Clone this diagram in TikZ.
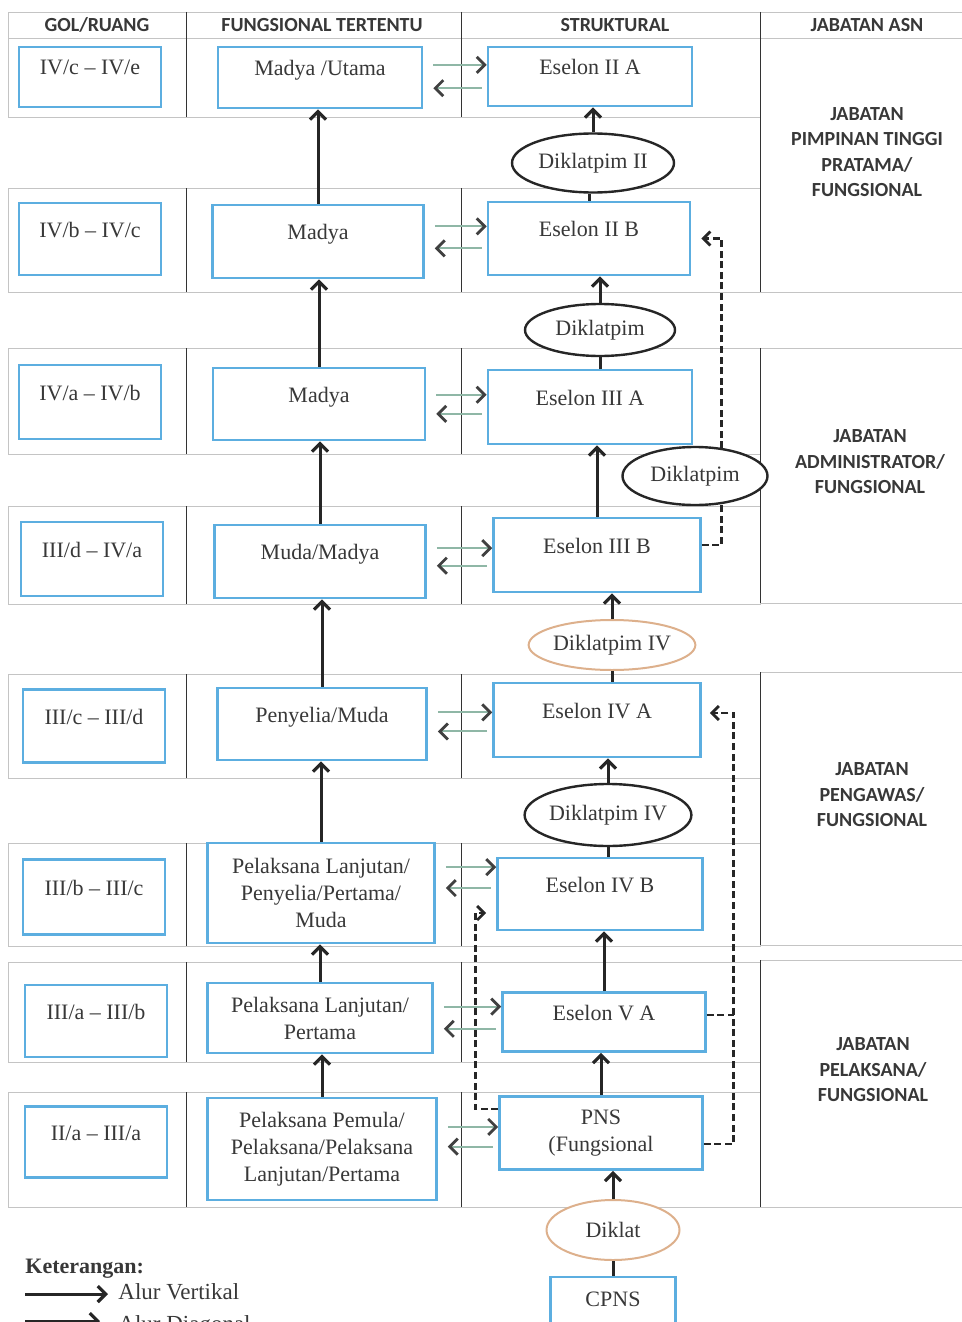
\documentclass[tikz,border=0pt]{standalone}
\usepackage{fontspec}
\setmainfont{Liberation Serif}
\newfontfamily\headfont{Carlito}
\usetikzlibrary{calc,arrows.meta,shapes.geometric}
\definecolor{boxblue}{HTML}{5CAEE0}
\definecolor{flowgreen}{HTML}{8FB7A6}
\definecolor{inkgray}{HTML}{383838}
\definecolor{rulegray}{HTML}{C4C4C4}
\definecolor{diklattan}{HTML}{DDB08C}

\begin{document}
\begin{tikzpicture}[x=0.5pt,y=-0.5pt,
	box/.style={draw=boxblue,line width=1.3pt,fill=white,text=inkgray,align=center,inner sep=0pt,font=\fontsize{11}{13.5}\selectfont},
	oneline/.style={text height=0.7em,text depth=0.9em},
	oval/.style={ellipse,draw=black!85,line width=1.2pt,fill=white,text=inkgray,inner sep=0pt,font=\fontsize{11}{13.5}\selectfont},
	head/.style={font=\headfont\bfseries\fontsize{10}{12.75}\selectfont,text=inkgray,align=center},
	vflow/.style={line width=1.5pt,draw=black!85,-{Straight Barb[length=4pt,width=8pt,line width=1.6pt]}},
	hflow/.style={line width=1pt,draw=flowgreen,-{Straight Barb[length=4pt,width=8pt,color=black!75,line width=1.4pt]}},
	dflow/.style={line width=1.4pt,draw=black!85,dash pattern=on 3.5pt off 1.8pt,-{Straight Barb[length=3.5pt,width=7pt]}},
	dline/.style={line width=1.4pt,draw=black!85,dash pattern=on 3.5pt off 1.8pt}]
	
	\clip (0,0) rectangle (962,1322);
	
	%Drawing table header
	\draw[rulegray] (8,12) rectangle (962,38);
	\foreach \x in {186,461,760} \draw[black!80] (\x,12) -- (\x,38);
	\node[head] (hgol) at (97,25) {GOL/RUANG};
	\node[head] (hfung) at (322,25) {FUNGSIONAL TERTENTU};
	\node[head] (hstruk) at (615,25) {STRUKTURAL};
	\node[head] (hasn) at (867,25) {JABATAN ASN};
	
	%Drawing row bands
	\foreach \t/\b in {38/117,188/292,348/454,506/604,674/778,843/946,962/1062,1092/1207}{
		\draw[rulegray] (8,\t) rectangle (760,\b);
		\draw[black!80] (186,\t) -- (186,\b) (461,\t) -- (461,\b);
	}
	
	%Drawing JABATAN ASN groups
	\foreach \t/\b in {38/292,348/603,672/945,960/1207}{
		\draw[rulegray] (760,\t) -- (962,\t) (760,\b) -- (962,\b);
		\draw[black!80] (760,\t) -- (760,\b);
	}
	\node[head] (asn1) at (867,152) {JABATAN\\PIMPINAN TINGGI\\PRATAMA/\\FUNGSIONAL};
	\node[head] (asn2) at (870,462) {JABATAN\\ADMINISTRATOR/\\FUNGSIONAL};
	\node[head] (asn3) at (872,795) {JABATAN\\PENGAWAS/\\FUNGSIONAL};
	\node[head] (asn4) at (873,1070) {JABATAN\\PELAKSANA/\\FUNGSIONAL};
	
	%Drawing GOL/RUANG boxes
	\node[box,oneline,minimum width=71pt,minimum height=30pt] (g1) at (90,77) {IV/c -- IV/e};
	\node[box,oneline,minimum width=71pt,minimum height=36pt] (g2) at (90,239) {IV/b -- IV/c};
	\node[box,oneline,minimum width=71pt,minimum height=37pt] (g3) at (90,402) {IV/a -- IV/b};
	\node[box,oneline,minimum width=71pt,minimum height=37pt] (g4) at (92,559) {III/d -- IV/a};
	\node[box,oneline,minimum width=71pt,minimum height=36.5pt] (g5) at (94,726) {III/c -- III/d};
	\node[box,oneline,minimum width=71pt,minimum height=37.5pt] (g6) at (94,897) {III/b -- III/c};
	\node[box,oneline,minimum width=71pt,minimum height=36pt] (g7) at (96,1021) {III/a -- III/b};
	\node[box,oneline,minimum width=71pt,minimum height=35.5pt] (g8) at (96,1142) {II/a -- III/a};
	
	%Drawing fungsional tertentu boxes
	\node[box,oneline,minimum width=102pt,minimum height=30.5pt] (f1) at (320,77.5) {Madya /Utama};
	\node[box,oneline,minimum width=105.5pt,minimum height=36.5pt] (f2) at (318,241.5) {Madya};
	\node[box,oneline,minimum width=106pt,minimum height=36pt] (f3) at (319,404) {Madya};
	\node[box,oneline,minimum width=105.5pt,minimum height=36.5pt] (f4) at (320,561.5) {Muda/Madya};
	\node[box,oneline,minimum width=104.5pt,minimum height=36pt] (f5) at (322,724) {Penyelia/Muda};
	\node[box,minimum width=113.5pt,minimum height=50pt] (f6) at (321,893) {Pelaksana Lanjutan/\\Penyelia/Pertama/\\Muda};
	\node[box,minimum width=112.5pt,minimum height=35pt] (f7) at (320,1018) {Pelaksana Lanjutan/\\Pertama};
	\node[box,minimum width=114.5pt,minimum height=51pt] (f8) at (322,1149) {Pelaksana Pemula/\\Pelaksana/Pelaksana\\Lanjutan/Pertama};
	
	%Drawing struktural boxes
	\node[box,oneline,minimum width=102pt,minimum height=29.5pt] (s1) at (590,76.5) {Eselon II A};
	\node[box,oneline,minimum width=101pt,minimum height=36.5pt] (s2) at (589,238.5) {Eselon II B};
	\node[box,oneline,minimum width=102pt,minimum height=37pt] (s3) at (590,407) {Eselon III A};
	\node[box,oneline,minimum width=103.5pt,minimum height=37pt] (s4) at (597,555) {Eselon III B};
	\node[box,oneline,minimum width=103.5pt,minimum height=37pt] (s5) at (597,720) {Eselon IV A};
	\node[box,oneline,minimum width=102.5pt,minimum height=36pt] (s6) at (600,894) {Eselon IV B};
	\node[box,oneline,minimum width=101.5pt,minimum height=29.5pt] (s7) at (604,1022) {Eselon V A};
	\node[box,minimum width=101.5pt,minimum height=36.5pt] (s8) at (601,1133) {PNS\\(Fungsional};
	\node[box,oneline,minimum width=62.5pt,minimum height=31pt] (cpns) at (613,1308) {CPNS};
	
	%Drawing dashed diagonal paths
	\draw[dflow] ([yshift=5pt]s4.east) -- ++(10pt,0) |- ([xshift=5pt]s2.east);
	\coordinate (pnsR) at ([xshift=15pt,yshift=-5.5pt]s8.east);
	\draw[dflow] ([yshift=-5.5pt]s8.east) -- (pnsR) |- ([xshift=4pt,yshift=3.5pt]s5.east);
	\draw[dline] ([yshift=3.5pt]s7.east) -- ([yshift=3.5pt]s7.east -| pnsR);
	\draw[dflow] ([yshift=12pt]s8.west) -- ++(-11.5pt,0) |- ([xshift=-5pt,yshift=-9.5pt]s6.west);
	
	%Drawing diklat ellipses
	\node[oval,minimum width=81pt,minimum height=29.5pt] (e1) at (593,163) {Diklatpim II};
	\node[oval,minimum width=75pt,minimum height=26pt] (e2) at (600,330) {Diklatpim};
	\node[oval,minimum width=72.5pt,minimum height=29pt] (e3) at (695,476) {Diklatpim};
	\node[oval,draw=diklattan,line width=1pt,minimum width=80pt,minimum height=25pt] (e4) at (612,645) {Diklatpim IV};
	\node[oval,minimum width=81pt,minimum height=31pt] (e5) at (608,815) {Diklatpim IV};
	\node[oval,draw=diklattan,line width=1pt,minimum width=66.5pt,minimum height=30pt] (e6) at (613,1230) {Diklat};
	
	%Drawing vertical paths
	\foreach \r/\p in {2/1,3/2,4/3,5/4,6/5,7/6,8/7}
		\draw[vflow] (f\r.north) -- (f\r.north |- f\p.south);
	\draw[line width=1.5pt,black!85] (s2.north) -- (s2.north |- e1.south);
	\draw[vflow] (e1.north) -- (e1.north |- s1.south);
	\draw[line width=1.5pt,black!85] (e2.south |- s3.north) -- (e2.south);
	\draw[vflow] (e2.north) -- (e2.north |- s2.south);
	\draw[vflow] (s4.north) -- (s4.north |- s3.south);
	\draw[line width=1.5pt,black!85] (e4.south |- s5.north) -- (e4.south);
	\draw[vflow] (e4.north) -- (e4.north |- s4.south);
	\draw[line width=1.5pt,black!85] (e5.south |- s6.north) -- (e5.south);
	\draw[vflow] (e5.north) -- (e5.north |- s5.south);
	\draw[vflow] (s7.north) -- (s7.north |- s6.south);
	\draw[vflow] (s8.north) -- (s8.north |- s7.south);
	\draw[line width=1.5pt,black!85] (cpns.north) -- (cpns.north |- e6.south);
	\draw[vflow] (e6.north) -- (e6.north |- s8.south);
	
	%Drawing horizontal paths
	\foreach \r/\a/\b in {1/0.31/0.69,2/0.34/0.63,3/0.34/0.59,4/0.41/0.64,5/0.4/0.65,6/0.14/0.42,7/0.25/0.61,8/0.42/0.68}{
		\coordinate (ra) at ($(s\r.north west)!\a!(s\r.south west)$);
		\coordinate (la) at ($(s\r.north west)!\b!(s\r.south west)$);
		\draw[hflow] ([xshift=5pt]f\r.east |- ra) -- (ra);
		\draw[hflow] ([xshift=-2.5pt]la) -- ([xshift=5pt]f\r.east |- la);
	}
	
	%Drawing legend
	\node[font=\bfseries\fontsize{11}{13.5}\selectfont,text=inkgray,anchor=base west,inner sep=0pt] (ket) at (25,1273) {Keterangan:};
	\node[font=\fontsize{11.5}{13.5}\selectfont,text=inkgray,anchor=base west,inner sep=0pt] (alurv) at (118,1299) {Alur Vertikal};
	\node[font=\fontsize{11.5}{13.5}\selectfont,text=inkgray,anchor=base west,inner sep=0pt] (alurd) at (118,1331) {Alur Diagonal};
	\coordinate (lv) at (25,1294);
	\coordinate (ld) at (25,1321);
	\draw[vflow] (lv) -- ([xshift=-5pt]alurv.west |- lv);
	\draw[vflow,line width=1pt] (ld) -- ([xshift=-9pt]alurd.west |- ld);
	
\end{tikzpicture}
\end{document}
